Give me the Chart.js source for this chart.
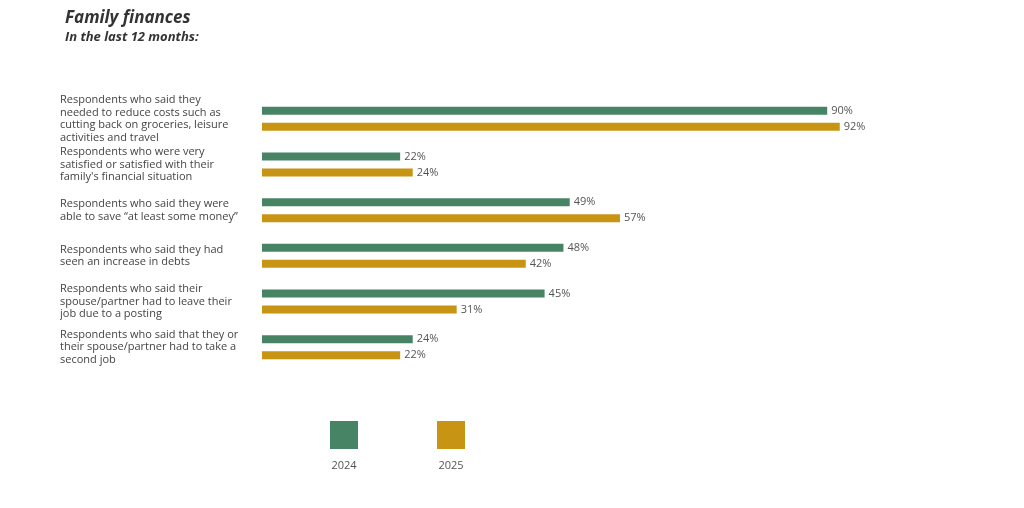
<!DOCTYPE html>
<html>
<head>
<meta charset="utf-8">
<script src="https://cdn.jsdelivr.net/npm/chart.js@4/dist/chart.umd.min.js"></script>
<style>
  html, body { margin: 0; padding: 0; background: #ffffff; }
  #wrap { width: 1024px; height: 508px; position: relative; }
</style>
</head>
<body>
<div id="wrap"><canvas id="c" width="1024" height="508"></canvas></div>
<script>
const categories = [
  ["Respondents who said they", "needed to reduce costs such as", "cutting back on groceries, leisure", "activities and travel"],
  ["Respondents who were very", "satisfied or satisfied with their", "family's financial situation"],
  ["Respondents who said they were", "able to save \u201cat least some money\u201d"],
  ["Respondents who said they had", "seen an increase in debts"],
  ["Respondents who said their", "spouse/partner had to leave their", "job due to a posting"],
  ["Respondents who said that they or", "their spouse/partner had to take a", "second job"]
];
const seriesNames = ["2024", "2025"];
const values2024 = [90, 22, 49, 48, 45, 24];
const values2025 = [92, 24, 57, 42, 31, 22];
const titleText = "Family finances";
const subtitleText = "In the last 12 months:";

const FONT = "'Open Sans', 'DejaVu Sans', sans-serif";
const GREEN = "#478466";
const GOLD = "#C89414";

const valueLabels = {
  id: 'valueLabels',
  afterDatasetsDraw(chart) {
    const ctx = chart.ctx;
    ctx.save();
    ctx.font = "11px " + FONT;
    ctx.fillStyle = "#555555";
    ctx.textBaseline = "middle";
    ctx.textAlign = "left";
    chart.data.datasets.forEach((ds, di) => {
      const meta = chart.getDatasetMeta(di);
      meta.data.forEach((bar, i) => {
        ctx.fillText(ds.data[i] + "%", bar.x + 4, bar.y);
      });
    });
    ctx.restore();
  }
};

const titles = {
  id: 'titles',
  afterDraw(chart) {
    const ctx = chart.ctx;
    ctx.save();
    ctx.fillStyle = "#333333";
    ctx.textAlign = "left";
    ctx.textBaseline = "alphabetic";
    ctx.font = "italic bold 17px " + FONT;
    ctx.fillText(titleText, 65, 23);
    ctx.font = "italic bold 13px " + FONT;
    ctx.fillText(subtitleText, 65, 41);
    ctx.restore();
  }
};

const customLegend = {
  id: 'customLegend',
  afterDraw(chart) {
    const ctx = chart.ctx;
    const centers = [344, 451];
    ctx.save();
    chart.data.datasets.forEach((ds, i) => {
      const cx = centers[i];
      ctx.fillStyle = ds.backgroundColor;
      ctx.fillRect(cx - 14, 421, 28, 28);
      ctx.fillStyle = "#555555";
      ctx.font = "11px " + FONT;
      ctx.textAlign = "center";
      ctx.textBaseline = "middle";
      ctx.fillText(ds.label, cx, 466);
    });
    ctx.restore();
  }
};

new Chart(document.getElementById('c'), {
  type: 'bar',
  data: {
    labels: categories,
    datasets: [
      { label: seriesNames[0], data: values2024, backgroundColor: GREEN, barPercentage: 0.5, categoryPercentage: 0.7 },
      { label: seriesNames[1], data: values2025, backgroundColor: GOLD, barPercentage: 0.5, categoryPercentage: 0.7 }
    ]
  },
  options: {
    indexAxis: 'y',
    responsive: false,
    animation: false,
    devicePixelRatio: 1,
    layout: { padding: { top: 96, bottom: 138, left: 60, right: 134 } },
    plugins: {
      legend: { display: false },
      title: { display: false },
      tooltip: { enabled: false }
    },
    scales: {
      x: {
        display: false,
        min: 0,
        max: 100,
        grid: { display: false }
      },
      y: {
        grid: { display: false },
        border: { display: false },
        afterFit(scale) { scale.width = 202; },
        ticks: {
          autoSkip: false,
          crossAlign: 'far',
          padding: 0,
          color: "#444444",
          font: { family: FONT, size: 11, lineHeight: 1.15 }
        }
      }
    }
  },
  plugins: [valueLabels, titles, customLegend]
});
</script>
</body>
</html>
